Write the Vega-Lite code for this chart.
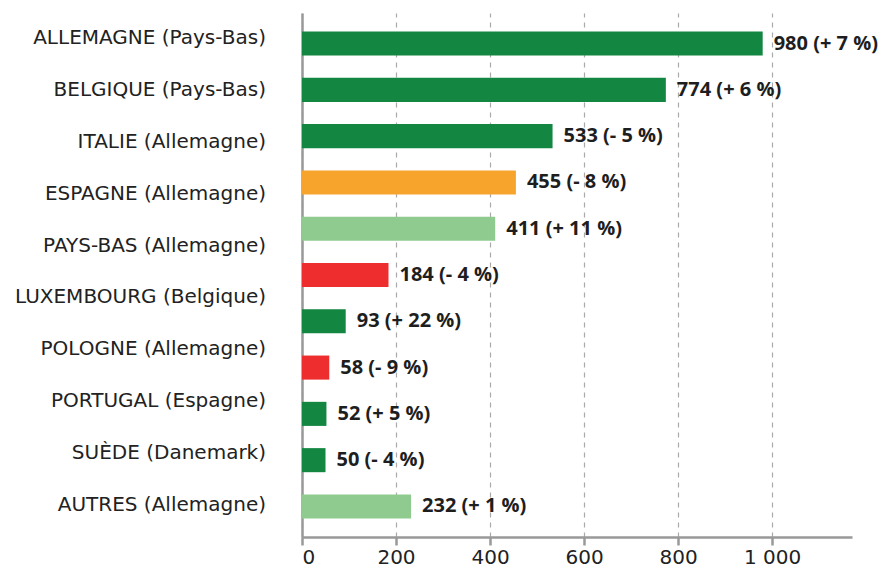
{
  "$schema": "https://vega.github.io/schema/vega-lite/v6.json",
  "autosize": "none",
  "width": 550,
  "height": 524,
  "padding": {"left": 302, "top": 13, "right": 39, "bottom": 33},
  "background": "white",
  "config": {"view": {"stroke": null}, "font": "DejaVu Sans"},
  "datasets": {
    "barres": [
      {"rang": 1, "valeur": 980, "etiquette": "980 (+ 7 %)", "groupe": "A"},
      {"rang": 2, "valeur": 774, "etiquette": "774 (+ 6 %)", "groupe": "A"},
      {"rang": 3, "valeur": 533, "etiquette": "533 (- 5 %)", "groupe": "A"},
      {"rang": 4, "valeur": 455, "etiquette": "455 (- 8 %)", "groupe": "B"},
      {"rang": 5, "valeur": 411, "etiquette": "411 (+ 11 %)", "groupe": "C"},
      {"rang": 6, "valeur": 184, "etiquette": "184 (- 4 %)", "groupe": "D"},
      {"rang": 7, "valeur": 93, "etiquette": "93 (+ 22 %)", "groupe": "A"},
      {"rang": 8, "valeur": 58, "etiquette": "58 (- 9 %)", "groupe": "D"},
      {"rang": 9, "valeur": 52, "etiquette": "52 (+ 5 %)", "groupe": "A"},
      {"rang": 10, "valeur": 50, "etiquette": "50 (- 4 %)", "groupe": "A"},
      {"rang": 11, "valeur": 232, "etiquette": "232 (+ 1 %)", "groupe": "C"}
    ],
    "libelles": [
      {"pays": "ALLEMAGNE (Pays-Bas)"},
      {"pays": "BELGIQUE (Pays-Bas)"},
      {"pays": "ITALIE (Allemagne)"},
      {"pays": "ESPAGNE (Allemagne)"},
      {"pays": "PAYS-BAS (Allemagne)"},
      {"pays": "LUXEMBOURG (Belgique)"},
      {"pays": "POLOGNE (Allemagne)"},
      {"pays": "PORTUGAL (Espagne)"},
      {"pays": "SUÈDE (Danemark)"},
      {"pays": "AUTRES (Allemagne)"}
    ]
  },
  "layer": [
    {
      "data": {"name": "barres"},
      "encoding": {
        "x": {
          "field": "valeur", "type": "quantitative",
          "scale": {"domain": [0, 1170], "nice": false},
          "axis": {
            "title": null, "values": [0, 200, 400, 600, 800, 1000], "format": ",d",
            "labelExpr": "replace(datum.label, ',', ' ')",
            "labelFontSize": 20, "labelColor": "#222222", "labelPadding": 2,
            "tickSize": 8, "tickColor": "#999999", "tickWidth": 2.5,
            "domainColor": "#999999", "domainWidth": 2.5,
            "grid": true, "gridColor": "#aaaaaa", "gridDash": [5, 5], "gridWidth": 1.2
          }
        },
        "y": {
          "field": "rang", "type": "ordinal", "sort": null,
          "scale": {"paddingInner": 0.48, "paddingOuter": 0.4},
          "axis": {
            "title": null, "ticks": false, "labels": false,
            "domainColor": "#999999", "domainWidth": 2.5, "grid": false
          }
        }
      },
      "layer": [
        {
          "mark": {"type": "bar"},
          "encoding": {
            "color": {
              "field": "groupe", "type": "nominal",
              "scale": {"domain": ["A", "B", "C", "D"], "range": ["#138641", "#F7A42C", "#8FCB8F", "#EE2E2E"]},
              "legend": null
            }
          }
        },
        {
          "mark": {"type": "text", "align": "left", "dx": 11, "fontSize": 20, "font": "Open Sans", "fontWeight": "bold", "color": "#1e1e1e"},
          "encoding": {"text": {"field": "etiquette"}}
        }
      ]
    },
    {
      "data": {"name": "libelles"},
      "mark": {"type": "text", "align": "right", "dx": -36, "fontSize": 20, "color": "#222222"},
      "encoding": {
        "x": {"datum": 0, "type": "quantitative"},
        "y": {
          "field": "pays", "type": "nominal", "sort": null,
          "scale": {"type": "point", "padding": 0.558, "align": 0.44},
          "axis": null
        },
        "text": {"field": "pays"}
      }
    }
  ],
  "resolve": {"scale": {"y": "independent"}}
}
